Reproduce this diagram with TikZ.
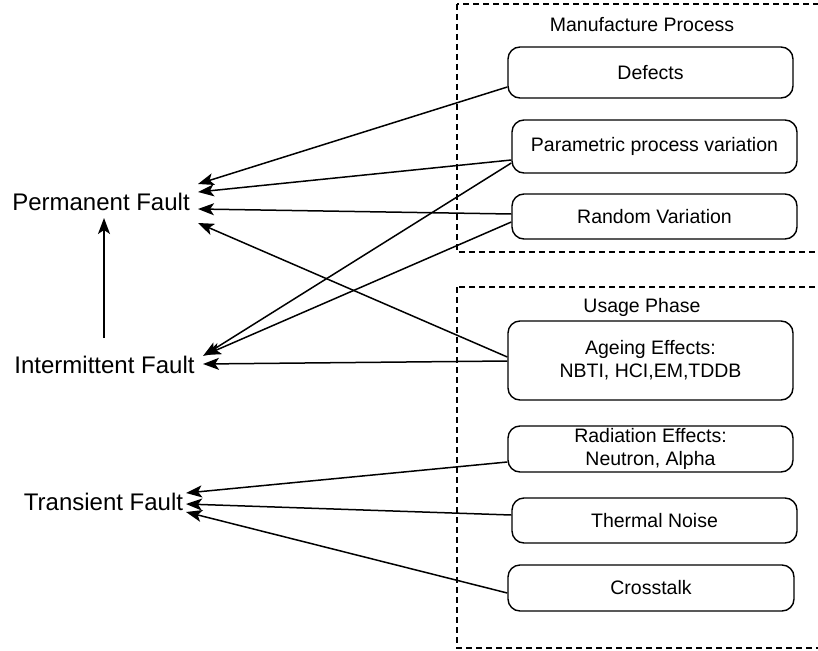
\documentclass[tikz,border=0pt]{standalone}
\usepackage{fontspec}
\setmainfont{Liberation Sans}
\usetikzlibrary{arrows.meta,calc}
\begin{document}
\begin{tikzpicture}[x=1pt,y=-1pt,
  cause/.style={draw, line width=1.4pt, rounded corners=12pt, font=\fontsize{19.5}{23}\selectfont, align=center, inner sep=0pt},
  fault/.style={font=\fontsize{24}{28}\selectfont, inner sep=0pt},
  grp/.style={draw, line width=1.2pt, dash pattern=on 6pt off 4pt},
  grplabel/.style={font=\fontsize{19.5}{23}\selectfont, inner sep=0pt},
  arr/.style={line width=1.5pt, -{Stealth[length=16pt,width=12pt,inset=4pt]}},
]
\clip (0,0) rectangle (818,650);
\fill[white] (0,0) rectangle (818,650);
% groups
\draw[grp] (457,4) rectangle (840,252);
\draw[grp] (457,287) rectangle (840,648);
\node[grplabel] (mp) at (642,25) {Manufacture Process};
\node[grplabel] (up) at (642,307) {Usage Phase};
% causes
\node[cause, minimum width=285pt, minimum height=51pt] (def) at (650.5,72.5) {Defects};
\node[cause, minimum width=285pt, minimum height=53pt] (par) at (654.5,146.5) {Parametric process variation};
\node[cause, minimum width=285pt, minimum height=45pt] (rnd) at (654.5,216.5) {Random Variation};
\node[cause, minimum width=285pt, minimum height=79pt] (age) at (650.5,360.5) {Ageing Effects:\\NBTI, HCI,EM,TDDB};
\node[cause, minimum width=285pt, minimum height=46pt] (rad) at (650.5,449) {Radiation Effects:\\Neutron, Alpha};
\node[cause, minimum width=285pt, minimum height=45pt] (thm) at (654.5,520.5) {Thermal Noise};
\node[cause, minimum width=286pt, minimum height=46pt] (crs) at (651,588) {Crosstalk};
% faults
\node[fault] (pf) at (101,202) {Permanent Fault};
\node[fault] (if) at (104.5,365) {Intermittent Fault};
\node[fault] (tf) at (103.5,502) {Transient Fault};
% arrow targets
\coordinate (pf1) at (198,184);
\coordinate (pf2) at (198,192);
\coordinate (pf3) at (198,209);
\coordinate (pf4) at (198,223);
\coordinate (pfb) at (104,218);
\coordinate (ift) at (104,338);
\coordinate (if1) at (203,356);
\coordinate (if2) at (205,355);
\coordinate (if3) at (203,364);
\coordinate (tf1) at (186,493);
\coordinate (tf2) at (186,504);
\coordinate (tf3) at (186,512);
% connectors
\draw[arr] ($(def.west)+(0,14.5)$) -- (pf1);
\draw[arr] ($(par.west)+(0,13.5)$) -- (pf2);
\draw[arr] ($(rnd.west)+(0,-2.5)$) -- (pf3);
\draw[arr] ($(age.west)+(0,-3.5)$) -- (pf4);
\draw[arr] ($(par.west)+(0,16.5)$) -- (if1);
\draw[arr] ($(rnd.west)+(0,5.5)$) -- (if2);
\draw[arr] ($(age.west)+(0,0.5)$) -- (if3);
\draw[arr] ($(rad.west)+(0,13)$) -- (tf1);
\draw[arr] ($(thm.west)+(0,-5.5)$) -- (tf2);
\draw[arr] ($(crs.west)+(0,5)$) -- (tf3);
\draw[arr] (ift) -- (pfb);
\end{tikzpicture}
\end{document}
